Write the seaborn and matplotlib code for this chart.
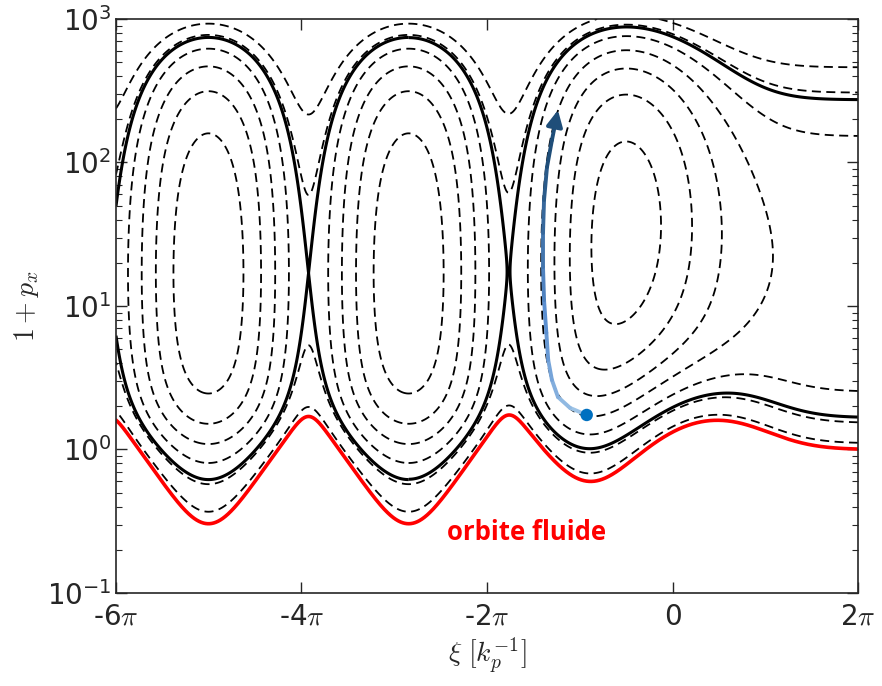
import numpy as np
import matplotlib
matplotlib.use("Agg")
import matplotlib.pyplot as plt
import seaborn as sns
from matplotlib.collections import LineCollection
from matplotlib.colors import LinearSegmentedColormap

# --- wake / laser parameters ---
gamma_p = 16.0          # wake phase velocity Lorentz factor
a0 = 2.0                # laser strength (linear polarisation)
laser_center = 0.0      # driver centre, units of pi
laser_width = 0.85      # 1/e half width of a^2, units of pi

# Hamiltonian levels of the dashed orbits, and of the fluid orbit
dashed_levels = [-0.9, -0.6, -0.3, 0.0, 0.3, 0.6, 0.9]
fluid_level = 1.0

# injected electron path: xi (units of pi) and 1 + p_x
path_xi = [-0.925, -1.105, -1.235, -1.30, -1.34, -1.36, -1.385, -1.396,
           -1.396, -1.385, -1.353, -1.30, -1.235]
path_p = [1.74, 1.95, 2.32, 3.05, 4.2, 6.5, 11.0, 18.7, 32.3, 54.8, 93.0,
          143.0, 232.0]

xtick_pos = [-6, -4, -2, 0, 2]
xtick_labels = ["-6$\\pi$", "-4$\\pi$", "-2$\\pi$", "0", "2$\\pi$"]

sns.set_style("ticks")
plt.rcParams["mathtext.fontset"] = "cm"
plt.rcParams["axes.unicode_minus"] = False
plt.rcParams["lines.dashed_pattern"] = (5, 3)
plt.rcParams["xtick.direction"] = "in"
plt.rcParams["ytick.direction"] = "in"

beta_p = np.sqrt(1 - 1 / gamma_p**2)


def laser_a2(xi):
    return a0**2 * np.exp(-((xi - laser_center * np.pi) / (laser_width * np.pi))**2)


def wake_rhs(xi, phi):
    # cycle averaged drive <a^2> = a^2 / 2
    a2 = 0.5 * laser_a2(xi)
    return 0.5 * ((1 + a2) / (1 + phi)**2 - 1)


# integrate the 1D nonlinear wake equation from ahead of the laser backwards
n = 5001
xi_all = np.linspace(4 * np.pi, -6 * np.pi, n)
step = xi_all[1] - xi_all[0]
phi = np.zeros(n)
dphi = np.zeros(n)
for i in range(n - 1):
    x0, p0, d0 = xi_all[i], phi[i], dphi[i]
    k1p, k1d = d0, wake_rhs(x0, p0)
    k2p, k2d = d0 + 0.5 * step * k1d, wake_rhs(x0 + 0.5 * step, p0 + 0.5 * step * k1p)
    k3p, k3d = d0 + 0.5 * step * k2d, wake_rhs(x0 + 0.5 * step, p0 + 0.5 * step * k2p)
    k4p, k4d = d0 + step * k3d, wake_rhs(x0 + step, p0 + step * k3p)
    phi[i + 1] = p0 + step / 6 * (k1p + 2 * k2p + 2 * k3p + k4p)
    dphi[i + 1] = d0 + step / 6 * (k1d + 2 * k2d + 2 * k3d + k4d)

keep = xi_all <= 2 * np.pi + 1e-9
xi = xi_all[keep][::-1]
phi_x = phi[keep][::-1]
a2_x = laser_a2(xi)

# Hamiltonian on the phase plane
p_axis = np.logspace(-1, 3, 900)
u = p_axis[:, None] - 1
H = np.sqrt(1 + a2_x[None, :] + u**2) - beta_p * u - phi_x[None, :]

# separatrix: one level per X point, split at the O point between them
o_range = np.where((xi > -3.5 * np.pi) & (xi < -2.2 * np.pi))[0]
o_split = o_range[np.argmax(phi_x[o_range])]
sep_parts = []
for sl in (slice(0, o_split + 1), slice(o_split, None)):
    xs, ps = xi[sl], phi_x[sl]
    h_sep = 1 / gamma_p - ps[xs < -np.pi].min()
    sep_parts.append((sl, h_sep))

# fluid orbit (lower root of H = 1)
hh = fluid_level + phi_x
u_fluid = (1 + a2_x - hh**2) / (hh * beta_p + np.sqrt(hh**2 - (1 + a2_x) / gamma_p**2))

fig = plt.figure(figsize=(8.82, 6.86), dpi=100)
ax = fig.add_axes([0.1315, 0.1356, 0.8413, 0.8367])

ax.contour(xi, p_axis, H, levels=dashed_levels, colors="k",
           linestyles="dashed", linewidths=1.3)
for sl, h_sep in sep_parts:
    ax.contour(xi[sl], p_axis, H[:, sl], levels=[h_sep], colors="k",
               linestyles="solid", linewidths=2.2)
sns.lineplot(x=xi, y=1 + u_fluid, color="#ff0000", lw=2.6, ax=ax,
             estimator=None, sort=False)

# injected electron, colour going from light to dark blue
px = np.array(path_xi) * np.pi
py = np.array(path_p)
pts = np.column_stack([px, py])
segs = np.stack([pts[:-2], pts[1:-1]], axis=1)
cmap = LinearSegmentedColormap.from_list("inj", ["#9dc3e6", "#5b8fd0", "#1f4e79"])
lc = LineCollection(segs, colors=cmap(np.linspace(0, 1, len(segs))), linewidths=2.8,
                    capstyle="round", zorder=4)
ax.add_collection(lc)
ax.annotate("", xy=(px[-1], py[-1]), xytext=(px[-2], py[-2]),
            arrowprops=dict(arrowstyle="-|>", color="#1f4e79", lw=2.8,
                            mutation_scale=24, shrinkA=0, shrinkB=0), zorder=5)
ax.scatter([px[0]], [py[0]], s=80, color="#0070c0", zorder=6, edgecolor="none")

ax.text(-1.57 * np.pi, 0.262, "orbite fluide", color="#ff0000", fontsize=18.5,
        fontweight="bold", ha="center", va="center",
        family=["Open Sans", "DejaVu Sans"])

ax.set_yscale("log")
ax.set_xlim(-6 * np.pi, 2 * np.pi)
ax.set_ylim(0.1, 1000)
ax.set_xticks(np.array(xtick_pos) * np.pi)
ax.set_xticklabels(xtick_labels)
ax.tick_params(which="both", top=True, right=True, labelsize=20)
ax.tick_params(which="major", length=8, width=1)
ax.tick_params(which="minor", length=4, width=0.8)
ax.tick_params(axis="x", pad=7)
ax.set_xlabel("$\\xi\\ [k_p^{-1}]$", fontsize=20)
ax.set_ylabel("$1+p_x$", fontsize=20)
for s in ax.spines.values():
    s.set_linewidth(1.2)

fig.savefig("out.png", dpi=100)
